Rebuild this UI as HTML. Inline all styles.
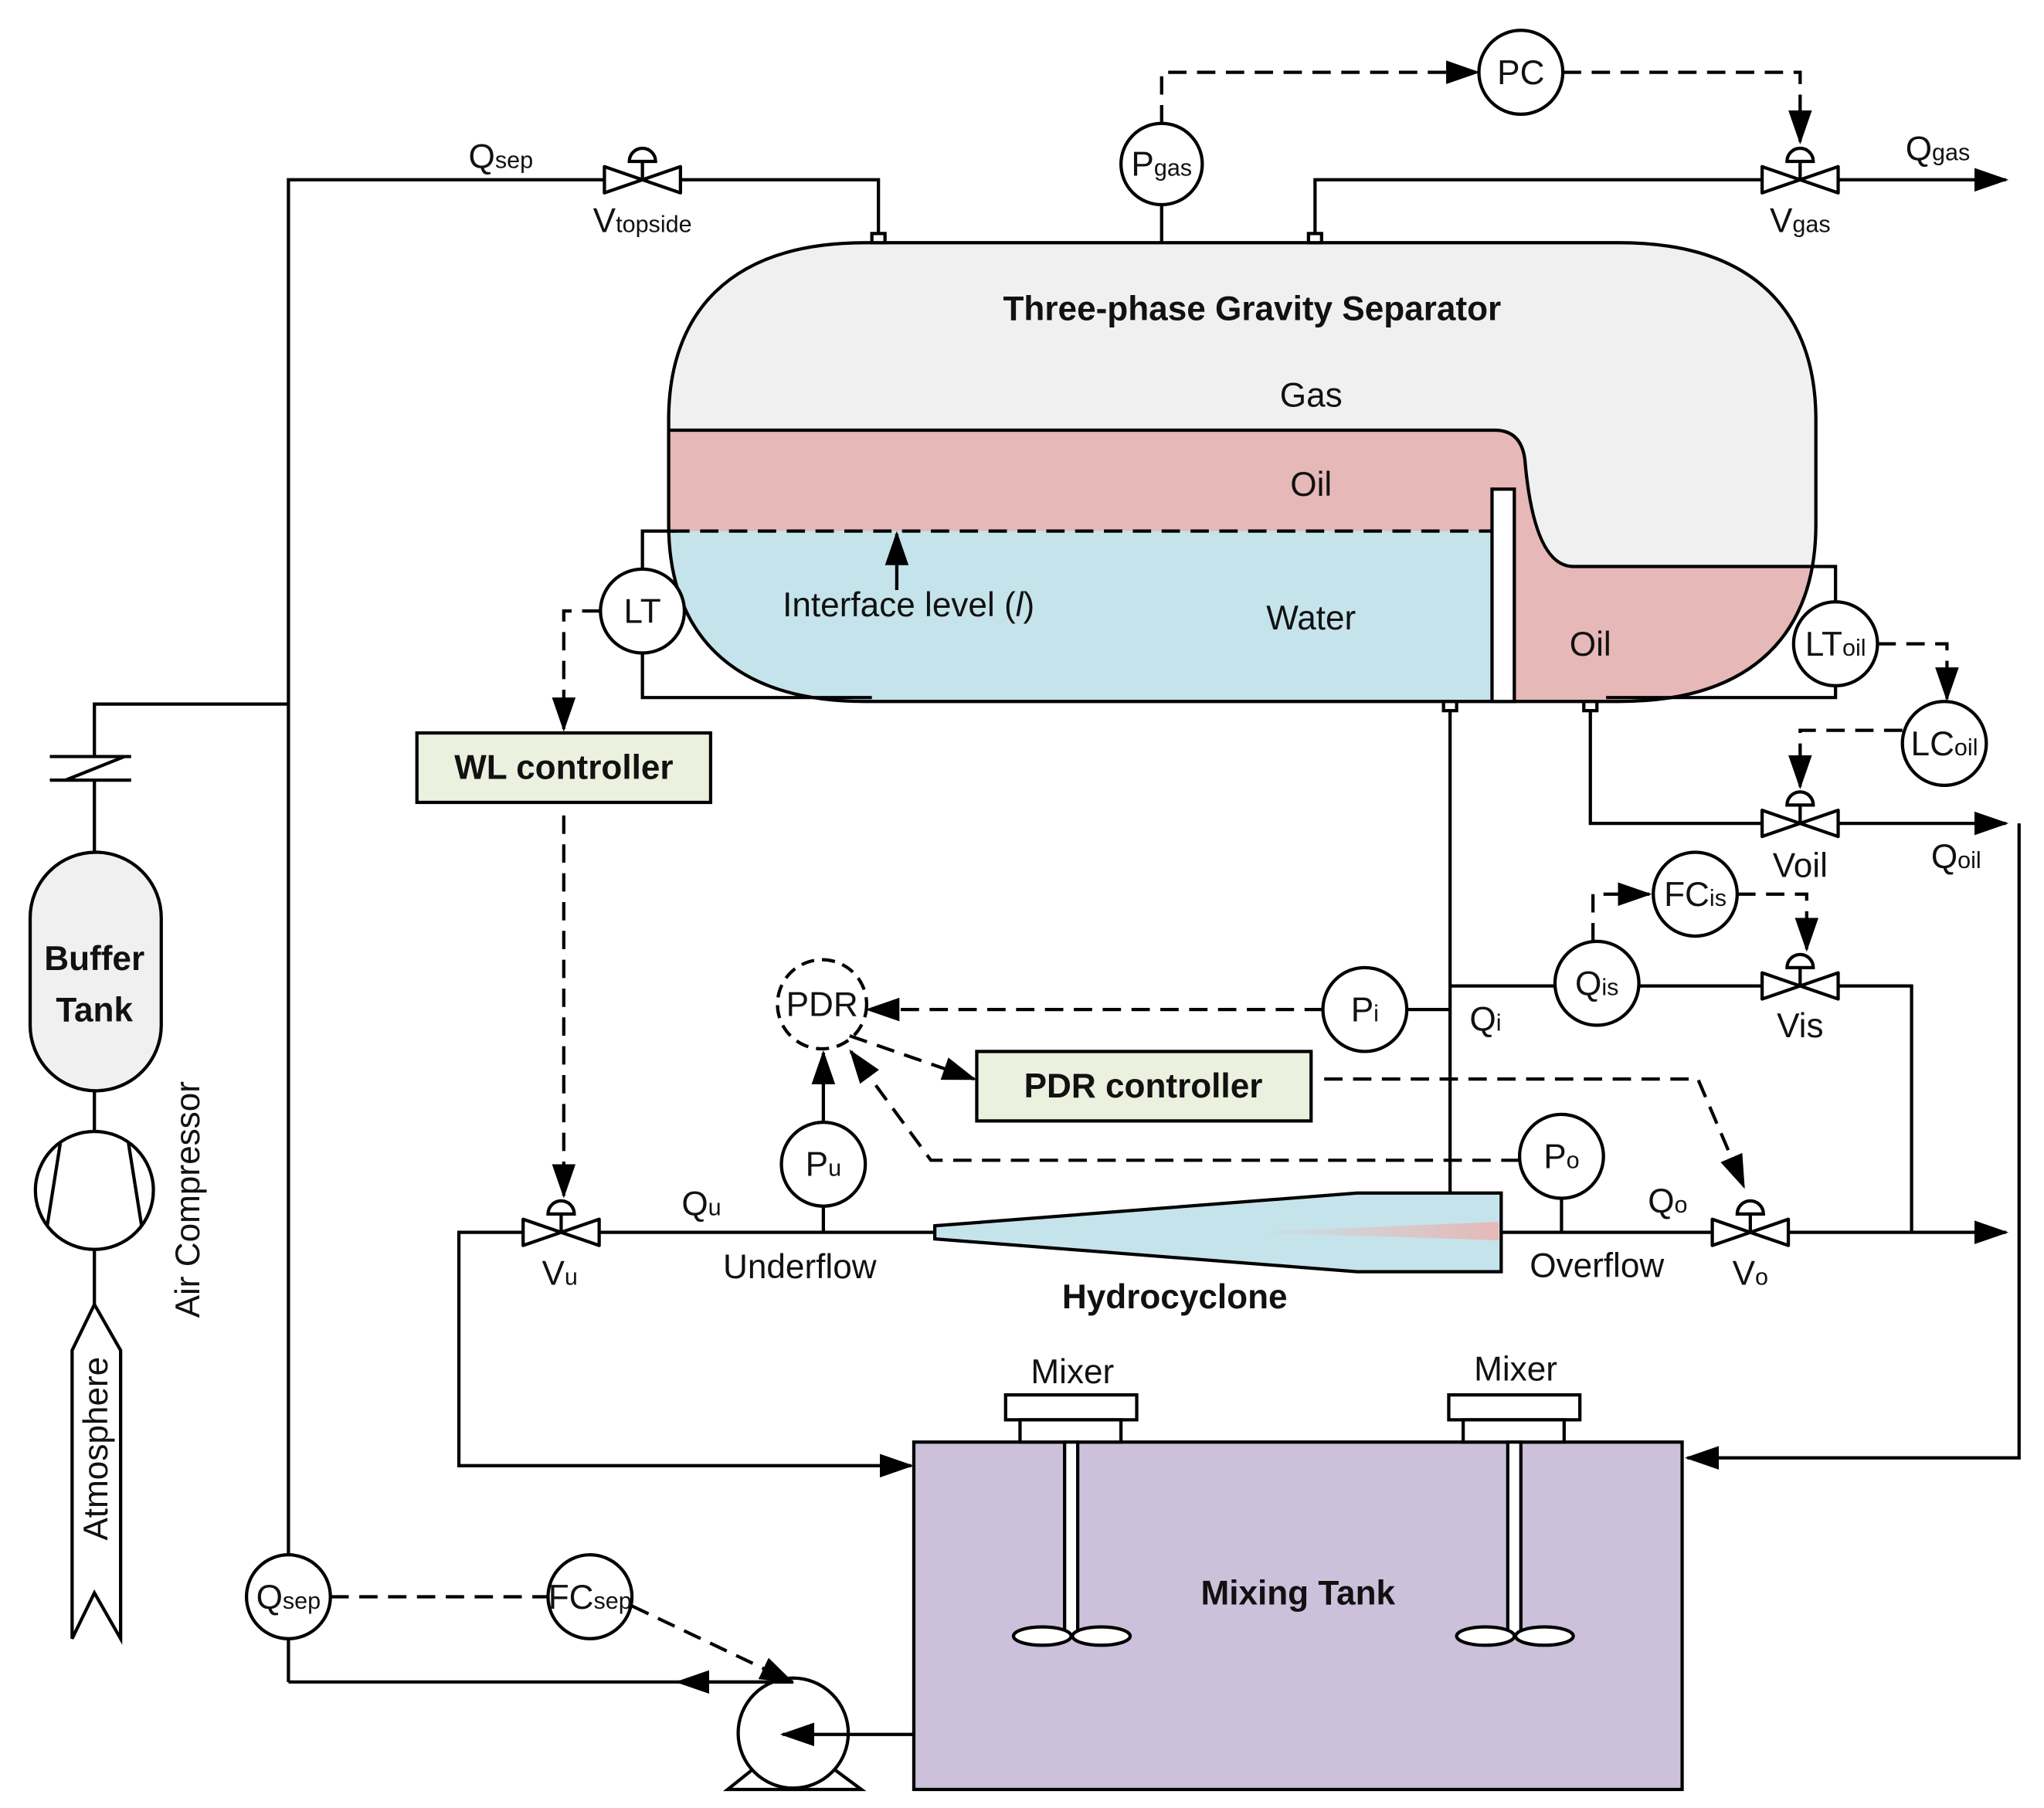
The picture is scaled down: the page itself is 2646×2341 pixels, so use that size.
<!DOCTYPE html>
<html><head><meta charset="utf-8"><style>
html,body{margin:0;padding:0;background:#fff}
svg{display:block}
text{font-family:"Liberation Sans",sans-serif;fill:#111}
</style></head><body>
<svg width="2646" height="2341" viewBox="0 0 1559 1379" xmlns="http://www.w3.org/2000/svg">
<defs>
<marker id="b" markerWidth="26" markerHeight="18" refX="24" refY="9" orient="auto" markerUnits="userSpaceOnUse" viewBox="0 0 26 18"><path d="M0,0 L26,9 L0,18 z" fill="#000"/></marker>
<clipPath id="sep"><path d="M660,185 H1235 C1340,185 1385,240 1385,320 V400 C1385,480 1340,535 1235,535 H660 C555,535 510,480 510,400 V320 C510,240 555,185 660,185 Z"/></clipPath>
<linearGradient id="st" x1="0" x2="1"><stop offset="0" stop-color="#e6b8b7" stop-opacity="0"/><stop offset="1" stop-color="#e6b8b7"/></linearGradient>
<g id="valve"><path d="M-29,-10 L29,10 L29,-10 L-29,10 Z" fill="#fff" stroke="#000" stroke-width="2.5" stroke-linejoin="round"/><line x1="0" y1="0" x2="0" y2="-14" stroke="#000" stroke-width="2.5"/><path d="M-10,-14 A10,10 0 0 1 10,-14 Z" fill="#fff" stroke="#000" stroke-width="2.5"/></g>
</defs>
<g fill="none" stroke="#000" stroke-width="2.5">
<g clip-path="url(#sep)" stroke="none">
<rect x="490" y="180" width="920" height="360" fill="#f0f0f0"/>
<path d="M490,328 H1140 Q1160,328 1163,350 Q1170,432 1200,432 H1410 V540 H490 Z" fill="#e6b8b7"/>
<rect x="490" y="405" width="650" height="135" fill="#c5e3ea"/>
</g>
<path d="M510,328 H1140 Q1160,328 1163,350 Q1170,432 1200,432 H1385" />
<path d="M660,185 H1235 C1340,185 1385,240 1385,320 V400 C1385,480 1340,535 1235,535 H660 C555,535 510,480 510,400 V320 C510,240 555,185 660,185 Z"/>
<rect x="1138" y="373" width="17" height="162" fill="#fff"/>
<path d="M512,405 H1138" stroke-dasharray="14,8"/>
<line x1="684" y1="450" x2="684" y2="407" marker-end="url(#b)"/>
<rect x="665" y="178" width="10" height="7" fill="#fff"/>
<rect x="998" y="178" width="10" height="7" fill="#fff"/>
<rect x="1101" y="535" width="10" height="7" fill="#fff"/>
<rect x="1208" y="535" width="10" height="7" fill="#fff"/>
<path d="M220,1283 V137 H461"/>
<path d="M519,137 H670 V178"/>
<line x1="886" y1="156" x2="886" y2="185"/>
<path d="M1003,178 V137 H1344"/>
<line x1="1402" y1="137" x2="1530" y2="137" marker-end="url(#b)"/>
<circle cx="886" cy="125" r="31" fill="#fff"/>
<path d="M886,94 V55 H1127" stroke-dasharray="14,8" marker-end="url(#b)"/>
<circle cx="1160" cy="55" r="32" fill="#fff"/>
<path d="M1192,55 H1373 V108" stroke-dasharray="14,8" marker-end="url(#b)"/>
<path d="M490,434 V405 H515"/>
<path d="M490,498 V532 H665"/>
<circle cx="490" cy="466" r="32" fill="#fff"/>
<path d="M458,466 H430 V556" stroke-dasharray="14,8" marker-end="url(#b)"/>
<rect x="318" y="559" width="224" height="53" fill="#ebf1de"/>
<path d="M430,622 V912" stroke-dasharray="14,8" marker-end="url(#b)"/>
<path d="M1385,432 H1400 V459"/>
<path d="M1400,523 V532 H1225"/>
<circle cx="1400" cy="491" r="32" fill="#fff"/>
<path d="M1432,491 H1485 V533" stroke-dasharray="14,8" marker-end="url(#b)"/>
<circle cx="1483" cy="567" r="32" fill="#fff"/>
<path d="M1451,557 H1373 V600" stroke-dasharray="14,8" marker-end="url(#b)"/>
<path d="M1213,542 V628 H1344"/>
<line x1="1402" y1="628" x2="1530" y2="628" marker-end="url(#b)"/>
<path d="M1540,628 V1112 H1287" marker-end="url(#b)"/>
<line x1="1106" y1="542" x2="1106" y2="910"/>
<path d="M1106,752 H1344"/>
<path d="M1402,752 H1458 V940"/>
<circle cx="1218" cy="750" r="32" fill="#fff"/>
<path d="M1215,718 V682 H1258" stroke-dasharray="14,8" marker-end="url(#b)"/>
<circle cx="1293" cy="682" r="32" fill="#fff"/>
<path d="M1325,682 H1378 V724" stroke-dasharray="14,8" marker-end="url(#b)"/>
<line x1="1073" y1="770" x2="1106" y2="770"/>
<circle cx="1041" cy="770" r="32" fill="#fff"/>
<path d="M1009,770 H662" stroke-dasharray="14,8" marker-end="url(#b)"/>
<circle cx="627" cy="766" r="34" fill="#fff" stroke-dasharray="10,6"/>
<path d="M648,790 L743,823" stroke-dasharray="14,8" marker-end="url(#b)"/>
<rect x="745" y="802" width="255" height="53" fill="#ebf1de"/>
<path d="M1010,823 H1295 L1330,905" stroke-dasharray="14,8" marker-end="url(#b)"/>
<line x1="628" y1="920" x2="628" y2="940"/>
<circle cx="628" cy="888" r="32" fill="#fff"/>
<line x1="628" y1="856" x2="628" y2="803" marker-end="url(#b)"/>
<line x1="1191" y1="914" x2="1191" y2="940"/>
<circle cx="1191" cy="882" r="32" fill="#fff"/>
<path d="M1159,885 H710 L649,802" stroke-dasharray="14,8" marker-end="url(#b)"/>
<path d="M399,940 H350 V1118 H695" marker-end="url(#b)"/>
<line x1="457" y1="940" x2="713" y2="940"/>
<path d="M713,935 L1035,910 H1145 V970 H1035 L713,945 Z" fill="#c5e3ea"/>
<path d="M950,940 L1143,932 V946 Z" fill="url(#st)" stroke="none"/>
<line x1="1145" y1="940" x2="1306" y2="940"/>
<line x1="1364" y1="940" x2="1530" y2="940" marker-end="url(#b)"/>
<rect x="697" y="1100" width="586" height="265" fill="#ccc0da"/>
<g id="mx">
<rect x="767" y="1064" width="100" height="19" fill="#fff"/>
<rect x="778" y="1083" width="77" height="17" fill="#fff"/>
<rect x="812" y="1100" width="10" height="148" fill="#fff"/>
<ellipse cx="795" cy="1248" rx="22" ry="7" fill="#fff"/>
<ellipse cx="840" cy="1248" rx="22" ry="7" fill="#fff"/>
</g>
<use href="#mx" transform="translate(338,0)"/>
<path d="M555,1365 L580,1345 H630 L657,1365 Z" fill="#fff"/>
<circle cx="605" cy="1322" r="42" fill="#fff"/>
<line x1="697" y1="1323" x2="597" y2="1323" marker-end="url(#b)"/>
<path d="M605,1283 H220"/>
<line x1="605" y1="1283" x2="517" y2="1283" marker-end="url(#b)"/>
<circle cx="220" cy="1218" r="32" fill="#fff"/>
<path d="M252,1218 H418" stroke-dasharray="14,8"/>
<circle cx="450" cy="1218" r="32" fill="#fff"/>
<path d="M482,1225 L604,1283" stroke-dasharray="14,8" marker-end="url(#b)"/>
<path d="M220,537 H72 V577"/>
<line x1="38" y1="577" x2="100" y2="577"/>
<line x1="38" y1="595" x2="100" y2="595"/>
<path d="M50,595 L95,577"/>
<line x1="72" y1="595" x2="72" y2="650"/>
<rect x="23" y="650" width="100" height="182" rx="50" fill="#f0f0f0"/>
<line x1="72" y1="832" x2="72" y2="863"/>
<circle cx="72" cy="908" r="45" fill="#fff"/>
<line x1="46" y1="872" x2="36" y2="935"/><line x1="98" y1="872" x2="108" y2="935"/>
<line x1="72" y1="953" x2="72" y2="995"/>
<path d="M55,1030 L72,995 L92,1030 V1250 L72,1215 L55,1250 Z" fill="#fff"/>
</g>
<use href="#valve" x="490" y="137"/>
<use href="#valve" x="1373" y="137"/>
<use href="#valve" x="1373" y="628"/>
<use href="#valve" x="1373" y="752"/>
<use href="#valve" x="428" y="940"/>
<use href="#valve" x="1335" y="940"/>
<g font-size="26" text-anchor="middle">
<text x="955" y="244" font-weight="bold">Three-phase Gravity Separator</text>
<text x="1000" y="310">Gas</text>
<text x="1000" y="378">Oil</text>
<text x="1000" y="480">Water</text>
<text x="693" y="470">Interface level (<tspan font-style="italic">l</tspan>)</text>
<text x="1213" y="500">Oil</text>
<text x="430" y="594" font-weight="bold">WL controller</text>
<text x="872" y="837" font-weight="bold">PDR controller</text>
<text x="896" y="998" font-weight="bold">Hydrocyclone</text>
<text x="990" y="1224" font-weight="bold">Mixing Tank</text>
<text x="818" y="1055">Mixer</text>
<text x="1156" y="1053">Mixer</text>
<text x="610" y="975">Underflow</text>
<text x="1218" y="974">Overflow</text>
<text x="72" y="740" font-weight="bold">Buffer</text>
<text x="72" y="779" font-weight="bold">Tank</text>
<text x="1160" y="64">PC</text>
<text x="490" y="475">LT</text>
<text x="627" y="775">PDR</text>
<text x="886" y="134">P<tspan font-size="18">gas</tspan></text>
<text x="1400" y="500">LT<tspan font-size="18">oil</tspan></text>
<text x="1483" y="576">LC<tspan font-size="18">oil</tspan></text>
<text x="1293" y="691">FC<tspan font-size="18">is</tspan></text>
<text x="1218" y="759">Q<tspan font-size="18">is</tspan></text>
<text x="1041" y="779">P<tspan font-size="18">i</tspan></text>
<text x="628" y="897">P<tspan font-size="18">u</tspan></text>
<text x="1191" y="891">P<tspan font-size="18">o</tspan></text>
<text x="220" y="1227">Q<tspan font-size="18">sep</tspan></text>
<text x="450" y="1227">FC<tspan font-size="18">sep</tspan></text>
<text x="382" y="128">Q<tspan font-size="18">sep</tspan></text>
<text x="490" y="177">V<tspan font-size="18">topside</tspan></text>
<text x="1373" y="177">V<tspan font-size="18">gas</tspan></text>
<text x="1478" y="122">Q<tspan font-size="18">gas</tspan></text>
<text x="1373" y="669">Voil</text>
<text x="1492" y="662">Q<tspan font-size="18">oil</tspan></text>
<text x="1373" y="791">Vis</text>
<text x="1133" y="786">Q<tspan font-size="18">i</tspan></text>
<text x="535" y="927">Q<tspan font-size="18">u</tspan></text>
<text x="1272" y="925">Q<tspan font-size="18">o</tspan></text>
<text x="427" y="980">V<tspan font-size="18">u</tspan></text>
<text x="1335" y="980">V<tspan font-size="18">o</tspan></text>
<text transform="translate(82,1105) rotate(-90)">Atmosphere</text>
<text transform="translate(152,915) rotate(-90)">Air Compressor</text>
</g>
</svg>
</body></html>
